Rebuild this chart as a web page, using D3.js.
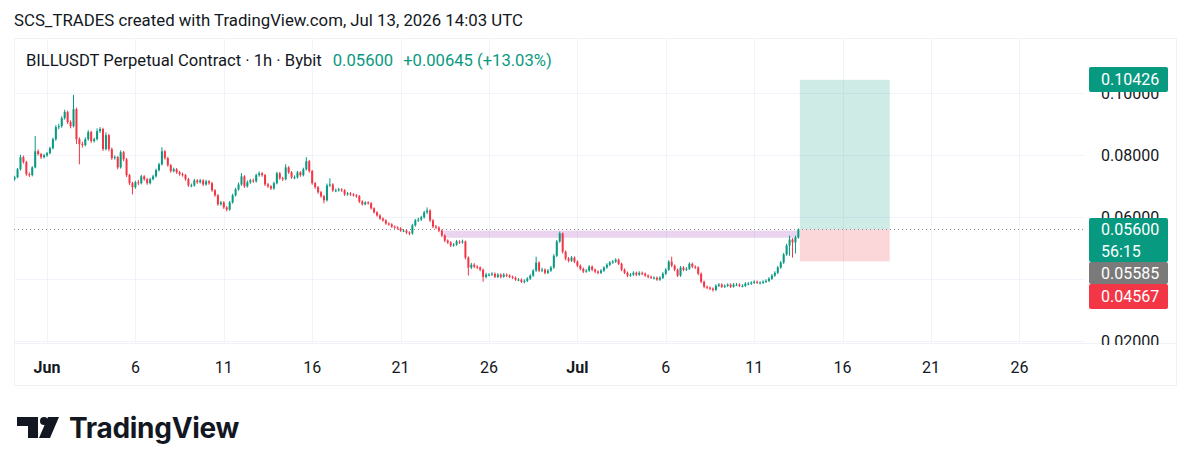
<!DOCTYPE html>
<html>
<head>
<meta charset="utf-8">
<script src="https://cdn.jsdelivr.net/npm/d3@7"></script>
<style>
  html, body { margin: 0; padding: 0; background: #fff; }
  svg { display: block; font-family: Roboto, "Noto Sans", sans-serif; }
</style>
</head>
<body>
<div id="container"></div>
<script>
// 4h candles, first bar opens May 30 04:00 UTC
const firstOpen = 0.0722;
const closes = [
  .0728,.0754,.0793,.0777,.0738,.0735,.0760,.0812,.0803,.0793,
  .0799,.0806,.0822,.0851,.0890,.0893,.0919,.0939,.0906,.0893,
  .0948,.0851,.0835,.0832,.0851,.0874,.0845,.0851,.0877,.0884,
  .0819,.0864,.0819,.0790,.0793,.0760,.0809,.0786,.0735,.0709,
  .0696,.0712,.0709,.0731,.0722,.0709,.0722,.0731,.0751,.0770,
  .0812,.0790,.0767,.0748,.0754,.0744,.0738,.0735,.0722,.0702,
  .0702,.0718,.0712,.0718,.0705,.0715,.0709,.0686,.0670,.0641,
  .0647,.0631,.0624,.0647,.0670,.0689,.0705,.0731,.0699,.0712,
  .0718,.0715,.0735,.0741,.0735,.0705,.0699,.0692,.0709,.0741,
  .0725,.0722,.0760,.0744,.0728,.0728,.0744,.0735,.0754,.0780,
  .0748,.0709,.0696,.0680,.0667,.0654,.0702,.0705,.0686,.0686,
  .0689,.0686,.0673,.0676,.0673,.0670,.0667,.0650,.0641,.0647,
  .0644,.0628,.0615,.0605,.0595,.0589,.0579,.0576,.0569,.0566,
  .0563,.0556,.0556,.0550,.0547,.0573,.0589,.0592,.0599,.0615,
  .0621,.0589,.0569,.0566,.0556,.0540,.0524,.0518,.0508,.0511,
  .0521,.0518,.0521,.0469,.0437,.0446,.0440,.0437,.0430,.0407,
  .0414,.0414,.0417,.0407,.0414,.0407,.0414,.0411,.0407,.0404,
  .0398,.0398,.0391,.0394,.0401,.0411,.0427,.0453,.0427,.0430,
  .0420,.0427,.0437,.0475,.0521,.0547,.0488,.0466,.0459,.0469,
  .0456,.0443,.0433,.0424,.0427,.0440,.0430,.0424,.0420,.0427,
  .0437,.0446,.0453,.0456,.0462,.0449,.0430,.0420,.0411,.0414,
  .0420,.0414,.0420,.0417,.0411,.0407,.0404,.0404,.0398,.0404,
  .0417,.0430,.0456,.0443,.0430,.0411,.0437,.0430,.0433,.0449,
  .0440,.0437,.0417,.0391,.0375,.0372,.0369,.0365,.0378,.0382,
  .0375,.0378,.0382,.0375,.0382,.0382,.0378,.0378,.0385,.0385,
  .0388,.0391,.0388,.0388,.0391,.0394,.0401,.0411,.0420,.0437,
  .0453,.0479,.0508,.0527,.0518,.0534,.0560
];
const highs = [
  .0733,.0758,.0801,.0798,.0781,.0744,.0764,.0861,.0818,.0807,
  .0804,.0810,.0827,.0856,.0896,.0901,.0925,.0946,.0943,.0912,
  .0994,.0953,.0857,.0843,.0857,.0880,.0878,.0856,.0886,.0890,
  .0888,.0873,.0868,.0824,.0799,.0797,.0815,.0813,.0790,.0739,
  .0714,.0717,.0720,.0736,.0735,.0726,.0727,.0736,.0756,.0775,
  .0825,.0816,.0794,.0771,.0759,.0758,.0749,.0743,.0739,.0726,
  .0708,.0723,.0722,.0723,.0722,.0720,.0719,.0713,.0690,.0674,
  .0652,.0651,.0635,.0652,.0675,.0694,.0711,.0741,.0735,.0718,
  .0723,.0724,.0740,.0747,.0745,.0739,.0710,.0703,.0714,.0746,
  .0745,.0730,.0770,.0764,.0748,.0734,.0749,.0748,.0759,.0793,
  .0784,.0752,.0713,.0700,.0684,.0671,.0708,.0725,.0709,.0692,
  .0694,.0693,.0690,.0681,.0680,.0677,.0674,.0671,.0654,.0651,
  .0651,.0648,.0631,.0619,.0609,.0599,.0593,.0583,.0580,.0573,
  .0570,.0567,.0561,.0560,.0554,.0578,.0594,.0598,.0604,.0620,
  .0631,.0625,.0593,.0574,.0570,.0560,.0544,.0528,.0522,.0516,
  .0526,.0525,.0527,.0524,.0473,.0452,.0451,.0444,.0441,.0434,
  .0420,.0419,.0422,.0421,.0419,.0418,.0419,.0418,.0415,.0411,
  .0408,.0403,.0402,.0399,.0406,.0415,.0432,.0472,.0457,.0436,
  .0434,.0432,.0442,.0480,.0526,.0553,.0550,.0492,.0471,.0474,
  .0473,.0460,.0447,.0437,.0432,.0445,.0444,.0434,.0428,.0432,
  .0441,.0451,.0458,.0461,.0467,.0466,.0453,.0434,.0424,.0419,
  .0425,.0424,.0425,.0424,.0421,.0415,.0411,.0409,.0408,.0409,
  .0422,.0435,.0461,.0472,.0447,.0434,.0442,.0441,.0438,.0454,
  .0453,.0444,.0441,.0421,.0395,.0379,.0376,.0373,.0383,.0387,
  .0386,.0383,.0386,.0386,.0387,.0387,.0386,.0383,.0390,.0390,
  .0393,.0396,.0395,.0393,.0396,.0399,.0406,.0416,.0425,.0442,
  .0458,.0484,.0514,.0540,.0532,.0540,.0563
];
const lows = [
  .0717,.0725,.0750,.0772,.0733,.0729,.0731,.0757,.0798,.0787,
  .0789,.0794,.0802,.0818,.0846,.0883,.0888,.0914,.0900,.0886,
  .0889,.0835,.0770,.0824,.0828,.0846,.0839,.0840,.0847,.0871,
  .0813,.0815,.0812,.0784,.0785,.0754,.0756,.0780,.0729,.0703,
  .0673,.0691,.0703,.0705,.0717,.0704,.0705,.0718,.0727,.0747,
  .0766,.0785,.0762,.0743,.0744,.0739,.0733,.0730,.0717,.0697,
  .0696,.0698,.0707,.0708,.0700,.0701,.0704,.0681,.0665,.0636,
  .0637,.0626,.0618,.0620,.0643,.0666,.0685,.0701,.0694,.0695,
  .0707,.0710,.0711,.0730,.0730,.0700,.0694,.0687,.0688,.0705,
  .0720,.0716,.0718,.0739,.0723,.0722,.0724,.0730,.0731,.0750,
  .0743,.0704,.0691,.0675,.0662,.0644,.0650,.0697,.0681,.0680,
  .0682,.0681,.0668,.0669,.0668,.0666,.0662,.0645,.0637,.0638,
  .0640,.0624,.0611,.0601,.0591,.0585,.0575,.0572,.0565,.0562,
  .0559,.0552,.0551,.0545,.0541,.0543,.0569,.0584,.0587,.0595,
  .0610,.0584,.0564,.0561,.0551,.0535,.0519,.0513,.0503,.0504,
  .0507,.0513,.0514,.0463,.0411,.0432,.0435,.0432,.0425,.0391,
  .0402,.0409,.0410,.0403,.0403,.0402,.0404,.0406,.0403,.0400,
  .0394,.0393,.0387,.0386,.0390,.0397,.0407,.0423,.0422,.0422,
  .0415,.0416,.0423,.0433,.0471,.0517,.0482,.0460,.0454,.0455,
  .0451,.0438,.0428,.0419,.0420,.0423,.0425,.0419,.0415,.0416,
  .0423,.0433,.0442,.0449,.0452,.0445,.0425,.0416,.0406,.0407,
  .0410,.0409,.0410,.0412,.0407,.0402,.0400,.0399,.0394,.0394,
  .0400,.0413,.0426,.0438,.0425,.0406,.0407,.0425,.0426,.0429,
  .0435,.0432,.0412,.0386,.0370,.0367,.0364,.0359,.0361,.0374,
  .0371,.0371,.0374,.0371,.0372,.0377,.0374,.0373,.0374,.0380,
  .0381,.0384,.0384,.0383,.0384,.0387,.0390,.0397,.0407,.0416,
  .0433,.0449,.0475,.0475,.0469,.0482,.0530
];
const startTime = Date.UTC(2026, 4, 30, 4);
const barHours = 4;

const priceTicks = [0.02, 0.04, 0.06, 0.08, 0.10];
// 0.04000 sits fully behind the price labels in the original, so it is not written
const priceTickLabels = [0.02, 0.06, 0.08, 0.10];
const dateTicks = [
  Date.UTC(2026, 5, 1), Date.UTC(2026, 5, 6), Date.UTC(2026, 5, 11), Date.UTC(2026, 5, 16),
  Date.UTC(2026, 5, 21), Date.UTC(2026, 5, 26), Date.UTC(2026, 6, 1), Date.UTC(2026, 6, 6),
  Date.UTC(2026, 6, 11), Date.UTC(2026, 6, 16), Date.UTC(2026, 6, 21), Date.UTC(2026, 6, 26)
];
const dateLabels = ["Jun", "6", "11", "16", "21", "26", "Jul", "6", "11", "16", "21", "26"];

// drawings
const zone = { from: Date.UTC(2026, 5, 23, 10), to: Date.UTC(2026, 6, 13, 12), top: 0.0556, bottom: 0.0533 };
const position = { from: Date.UTC(2026, 6, 13, 14), to: Date.UTC(2026, 6, 18, 16), entry: 0.0560, target: 0.10426, stop: 0.04567 };
const lastPrice = 0.0560;
const countdown = "56:15";
const prevPrice = 0.05585;

const width = 1200, height = 470;
const pLeft = 14, pRight = 1085, pTop = 38, pBottom = 343, axisRight = 1176, panelBottom = 385;
const upColor = "#089981", downColor = "#F23645";

const bars = closes.map((c, i) => ({
  t: startTime + i * barHours * 3600e3,
  o: i === 0 ? firstOpen : closes[i - 1],
  h: highs[i], l: lows[i], c: c
}));

const x = d3.scaleUtc()
  .domain([Date.UTC(2026, 5, 1), Date.UTC(2026, 6, 26)])
  .range([47, 1019.4]);
const y = d3.scaleLinear()
  .domain([0.02, 0.10])
  .range([341, 93]);

const svg = d3.select("#container").append("svg")
  .attr("width", width)
  .attr("height", height);

svg.append("rect").attr("width", width).attr("height", height).attr("fill", "#fff");

// header
svg.append("text")
  .attr("x", 14).attr("y", 26)
  .attr("font-size", 16.8).attr("fill", "#131722")
  .text("SCS_TRADES created with TradingView.com, Jul 13, 2026 14:03 UTC");

// panel frame
svg.append("rect")
  .attr("x", pLeft + 0.5).attr("y", pTop + 0.5)
  .attr("width", axisRight - pLeft).attr("height", panelBottom - pTop)
  .attr("fill", "none").attr("stroke", "#f0f2f5");

const defs = svg.append("defs");
defs.append("clipPath").attr("id", "plotClip")
  .append("rect").attr("x", pLeft).attr("y", pTop).attr("width", pRight - pLeft).attr("height", pBottom - pTop);
defs.append("clipPath").attr("id", "axisClip")
  .append("rect").attr("x", pRight).attr("y", pTop).attr("width", axisRight - pRight).attr("height", pBottom - pTop + 2);

// grid
const grid = svg.append("g").attr("clip-path", "url(#plotClip)");
grid.selectAll(".hg").data(priceTicks).join("line")
  .attr("x1", pLeft).attr("x2", pRight)
  .attr("y1", d => Math.round(y(d)) + 0.5).attr("y2", d => Math.round(y(d)) + 0.5)
  .attr("stroke", "#f0f3fa");
grid.selectAll(".vg").data(dateTicks).join("line")
  .attr("x1", d => Math.round(x(d)) + 0.5).attr("x2", d => Math.round(x(d)) + 0.5)
  .attr("y1", pTop).attr("y2", pBottom)
  .attr("stroke", "#f0f3fa");

// x axis separator
svg.append("line").attr("x1", pLeft).attr("x2", axisRight)
  .attr("y1", pBottom + 0.5).attr("y2", pBottom + 0.5).attr("stroke", "#f0f2f5");

const plot = svg.append("g").attr("clip-path", "url(#plotClip)");

// horizontal zone
plot.append("rect")
  .attr("x", x(zone.from)).attr("width", x(zone.to) - x(zone.from))
  .attr("y", y(zone.top)).attr("height", y(zone.bottom) - y(zone.top))
  .attr("fill", "rgba(156,39,176,0.2)");

// long position tool
plot.append("rect")
  .attr("x", x(position.from)).attr("width", x(position.to) - x(position.from))
  .attr("y", y(position.target)).attr("height", y(position.entry) - y(position.target))
  .attr("fill", "rgba(8,153,129,0.2)");
plot.append("rect")
  .attr("x", x(position.from)).attr("width", x(position.to) - x(position.from))
  .attr("y", y(position.entry)).attr("height", y(position.stop) - y(position.entry))
  .attr("fill", "rgba(242,54,69,0.2)");

// last price line
plot.append("line")
  .attr("x1", pLeft).attr("x2", pRight)
  .attr("y1", Math.round(y(lastPrice)) + 0.5).attr("y2", Math.round(y(lastPrice)) + 0.5)
  .attr("stroke", "#8a8e99").attr("stroke-dasharray", "1,3");

// candles
const cg = plot.append("g");
cg.selectAll("line").data(bars).join("line")
  .attr("x1", d => x(d.t)).attr("x2", d => x(d.t))
  .attr("y1", d => y(d.h)).attr("y2", d => y(d.l))
  .attr("stroke", d => d.c >= d.o ? upColor : downColor)
  .attr("stroke-width", 1);
cg.selectAll("rect").data(bars).join("rect")
  .attr("x", d => x(d.t) - 1)
  .attr("width", 2)
  .attr("y", d => y(Math.max(d.o, d.c)))
  .attr("height", d => Math.max(1, Math.abs(y(d.o) - y(d.c))))
  .attr("fill", d => d.c >= d.o ? upColor : downColor);

// price axis
const pa = svg.append("g").attr("clip-path", "url(#axisClip)");
pa.selectAll("text").data(priceTickLabels).join("text")
  .attr("x", 1101).attr("y", d => y(d))
  .attr("dy", "0.36em")
  .attr("font-size", 16).attr("fill", "#131722")
  .text(d => d3.format(".5f")(d));

// price labels
const labels = [
  { y0: 67, y1: 92, fill: upColor, lines: [d3.format(".5f")(position.target)] },
  { y0: 218, y1: 262, fill: upColor, lines: [d3.format(".5f")(lastPrice), countdown] },
  { y0: 262, y1: 284, fill: "#7a7a7a", lines: [d3.format(".5f")(prevPrice)] },
  { y0: 284, y1: 309, fill: "#F23645", lines: [d3.format(".5f")(position.stop)] }
];
labels.forEach(l => {
  svg.append("rect")
    .attr("x", 1089).attr("width", 79)
    .attr("y", l.y0).attr("height", l.y1 - l.y0)
    .attr("rx", 2).attr("fill", l.fill);
  const step = (l.y1 - l.y0) / l.lines.length;
  l.lines.forEach((t, k) => {
    svg.append("text")
      .attr("x", 1101).attr("y", l.y0 + step * (k + 0.5))
      .attr("dy", "0.36em")
      .attr("font-size", 16).attr("fill", "#fff")
      .text(t);
  });
});

// time axis
svg.append("g").selectAll("text").data(dateTicks).join("text")
  .attr("x", d => x(d)).attr("y", 367)
  .attr("dy", "0.36em")
  .attr("text-anchor", "middle")
  .attr("font-size", 16)
  .attr("font-weight", (d, i) => dateLabels[i] === "Jun" || dateLabels[i] === "Jul" ? 700 : 400)
  .attr("fill", "#131722")
  .text((d, i) => dateLabels[i]);

// legend
const legend = svg.append("text").attr("x", 26).attr("y", 66).attr("font-size", 16.6);
legend.append("tspan").attr("fill", "#131722").text("BILLUSDT Perpetual Contract · 1h · Bybit");
legend.append("tspan").attr("fill", upColor).attr("dx", 11).text("0.05600");
legend.append("tspan").attr("fill", upColor).attr("dx", 10).text("+0.00645 (+13.03%)");

// TradingView logo
const logo = svg.append("g").attr("fill", "#131722");
logo.append("path").attr("d", "M17,417 H38 V438 H28 V426 H17 Z");
logo.append("circle").attr("cx", 44).attr("cy", 421).attr("r", 4);
logo.append("path").attr("d", "M48,417 H59 L50,438 H39 Z");
logo.append("text")
  .attr("x", 69).attr("y", 438)
  .attr("font-family", "Inter, Roboto, sans-serif")
  .attr("font-size", 28).attr("font-weight", 700)
  .attr("letter-spacing", -0.3)
  .text("TradingView");
</script>
</body>
</html>
